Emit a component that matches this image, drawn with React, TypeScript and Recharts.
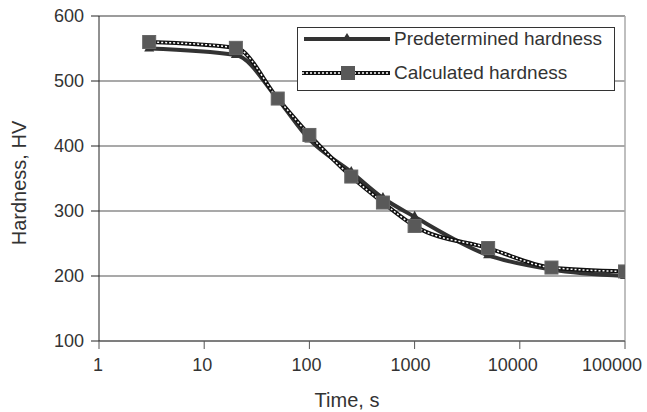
import {
  LineChart,
  Line,
  XAxis,
  YAxis,
  CartesianGrid,
  ReferenceLine,
  Legend,
} from 'recharts'

// time points, s
const times = [3, 20, 50, 100, 250, 500, 1000, 5000, 20000, 100000]
const predetermined = [550, 540, 472, 410, 360, 320, 291, 232, 210, 200]
const calculated = [560, 551, 473, 417, 353, 313, 277, 243, 213, 207]

const xTicks = [1, 10, 100, 1000, 10000, 100000]
const yTicks = [100, 200, 300, 400, 500, 600]

const data = times.map((t, i) => ({
  t,
  predetermined: predetermined[i],
  calculated: calculated[i],
}))

const FONT = '"Liberation Sans", Arial, sans-serif'
const TEXT = '#333'

const Triangle = (props: any) => {
  const { cx, cy } = props
  if (cx == null || cy == null) return null
  return <polygon points={`${cx},${cy - 6} ${cx - 5},${cy + 3} ${cx + 5},${cy + 3}`} fill='#333' />
}

const Square = (props: any) => {
  const { cx, cy } = props
  if (cx == null || cy == null) return null
  return <rect x={cx - 6.5} y={cy - 6.5} width={13} height={13} fill='#595959' stroke='#666' strokeWidth={1} />
}

// excel nudges the longer labels a little to the left
const tickShift: Record<number, number> = { 1: -1, 10: -2, 100: -3, 1000: -4, 10000: -7, 100000: -11 }

const XTick = (props: any) => {
  const { x, y, payload } = props
  return (
    <text x={x + (tickShift[payload.value] || 0)} y={y} dy='0.71em' textAnchor='middle' fill={TEXT} fontSize={18} fontFamily={FONT}>
      {payload.value}
    </text>
  )
}

const LegendBox = () => (
  <div style={{ border: '1px solid #333', background: '#fff', width: 316, height: 62, fontFamily: FONT, fontSize: 19, color: TEXT }}>
    <div style={{ display: 'flex', alignItems: 'center', height: 22 }}>
      <svg width={96} height={20}>
        <line x1={6} x2={92} y1={10} y2={10} stroke='#333' strokeWidth={4} />
        <polygon points='49,4 44,12 54,12' fill='#333' />
      </svg>
      <span>Predetermined hardness</span>
    </div>
    <div style={{ display: 'flex', alignItems: 'center', height: 24, marginTop: 11 }}>
      <svg width={96} height={20}>
        <line x1={4} x2={92} y1={10} y2={10} stroke='#111' strokeWidth={4} />
        <line x1={4} x2={92} y1={10} y2={10} stroke='#fff' strokeWidth={1.5} strokeDasharray='2 2' />
        <rect x={43} y={3} width={14} height={14} fill='#595959' />
      </svg>
      <span>Calculated hardness</span>
    </div>
  </div>
)

export default function App() {
  return (
    <div style={{ position: 'absolute', left: 0, top: 0, background: '#fff' }}>
      <LineChart width={647} height={412} data={data} margin={{ top: 16, right: 22, left: 0, bottom: 0 }}>
        <CartesianGrid vertical={false} stroke='#555' strokeWidth={1.2} />
        <XAxis
          dataKey='t'
          type='number'
          scale='log'
          domain={[1, 100000]}
          ticks={xTicks}
          allowDataOverflow
          height={71}
          tickSize={8}
          tickMargin={9}
          stroke='#555'
          tick={<XTick />}
          label={{
            content: () => (
              <text x={347} y={407} textAnchor='middle' fill={TEXT} fontSize={20} fontFamily={FONT}>
                Time, s
              </text>
            ),
          }}
        />
        <YAxis
          domain={[100, 600]}
          ticks={yTicks}
          width={99}
          tickSize={8}
          tickMargin={7}
          stroke='#222'
          tick={{ fill: TEXT, fontSize: 18, fontFamily: FONT }}
          label={{
            content: () => (
              <text x={26} y={183} transform='rotate(-90 26 183)' textAnchor='middle' fill={TEXT} fontSize={20} fontFamily={FONT}>
                Hardness, HV
              </text>
            ),
          }}
        />
        <ReferenceLine y={600} stroke='#999' strokeWidth={1.5} />
        <ReferenceLine x={100000} stroke='#aaa' strokeWidth={1.5} />
        <Legend
          layout='vertical'
          align='center'
          verticalAlign='middle'
          content={<LegendBox />}
          wrapperStyle={{ left: 297, top: 27, width: 318, height: 64 }}
        />
        <Line
          type='monotone'
          dataKey='predetermined'
          name='Predetermined hardness'
          stroke='#333'
          strokeWidth={4}
          dot={<Triangle />}
          activeDot={false}
          isAnimationActive={false}
        />
        <Line
          type='monotone'
          dataKey='calculated'
          stroke='#111'
          strokeWidth={4}
          dot={false}
          activeDot={false}
          legendType='none'
          isAnimationActive={false}
        />
        <Line
          type='monotone'
          dataKey='calculated'
          name='Calculated hardness'
          stroke='#fff'
          strokeWidth={1.5}
          strokeDasharray='2 2'
          dot={<Square />}
          activeDot={false}
          isAnimationActive={false}
        />
      </LineChart>
    </div>
  )
}
